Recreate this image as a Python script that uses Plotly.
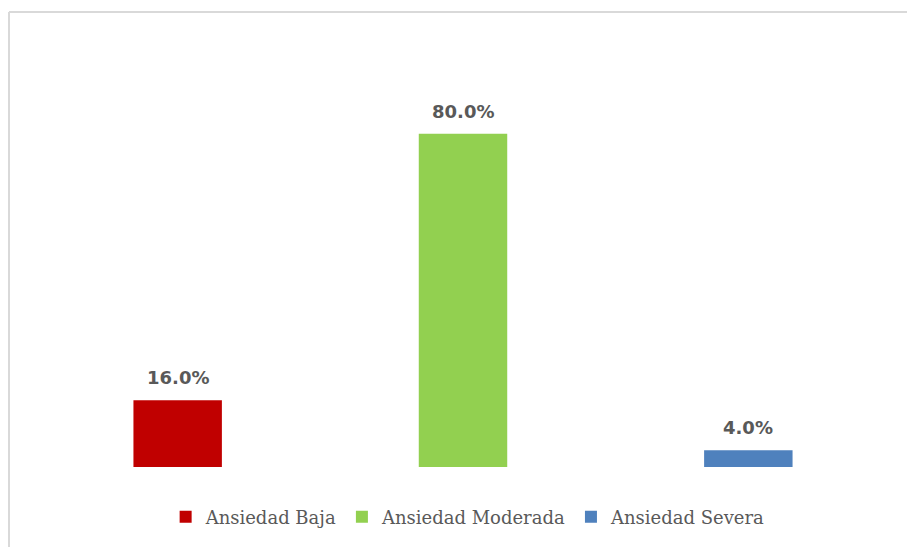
import plotly.graph_objects as go

categories = ["Ansiedad Baja", "Ansiedad Moderada", "Ansiedad Severa"]
values = [16.0, 80.0, 4.0]
colors = ["#C00000", "#92D050", "#4F81BD"]
labels = ["16.0%", "80.0%", "4.0%"]

fig = go.Figure()
for c, v, col in zip(categories, values, colors):
    fig.add_trace(go.Bar(x=[c], y=[v], name=c, marker=dict(color=col, line=dict(width=0)),
                         width=0.31, hoverinfo="skip"))

for c, v, lab in zip(categories, values, labels):
    fig.add_annotation(x=c, y=v, text="<b>" + lab + "</b>", showarrow=False,
                       yanchor="bottom", yshift=10,
                       font=dict(family="DejaVu Sans", size=18, color="#595959"))

W, H = 907, 547
l, r, t, b = 35, 16, 92, 80
pw = W - l - r
ph = H - t - b
# light outer border lines (top and left)
x_left = (9 - l) / pw
y_top = (H - b - 12) / ph
fig.add_shape(type="line", xref="paper", yref="paper", x0=x_left, x1=(W + 5 - l) / pw,
              y0=y_top, y1=y_top, line=dict(color="#D9D9D9", width=2))
fig.add_shape(type="line", xref="paper", yref="paper", x0=x_left, x1=x_left,
              y0=y_top, y1=-(b + 5) / ph, line=dict(color="#D9D9D9", width=2))

fig.update_layout(
    width=W, height=H,
    margin=dict(l=l, r=r, t=t, b=b),
    paper_bgcolor="white", plot_bgcolor="white",
    barmode="overlay",
    showlegend=True,
    legend=dict(orientation="h", x=0.506, xanchor="center", y=-(517 - (H - b)) / ph, yanchor="middle",
                font=dict(family="DejaVu Serif", size=18, color="#595959"),
                itemwidth=30, traceorder="normal"),
    xaxis=dict(visible=False, range=[-0.5, 2.5]),
    yaxis=dict(visible=False, range=[0, 90]),
)

fig.write_html("out.html")
